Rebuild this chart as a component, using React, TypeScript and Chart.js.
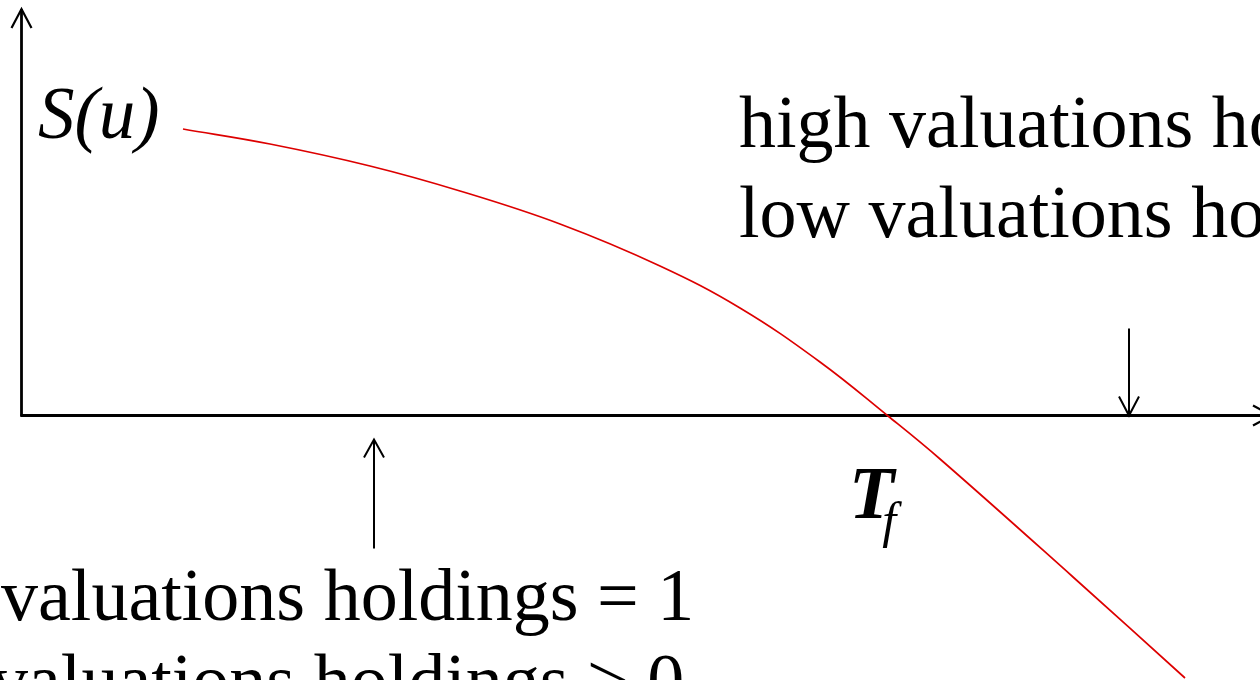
import React, { useEffect, useRef } from "react";
import { Chart, registerables } from "chart.js";

Chart.register(...registerables);

// Curve S(u): u on the horizontal axis, S on the vertical axis (axes cross at 0,0)
const uValues = [1.615, 2.485, 3.485, 4.385, 5.385, 6.385, 7.185, 7.985, 8.665, 9.185, 10.515, 11.635];
const sValues = [2.865, 2.715, 2.495, 2.245, 1.915, 1.495, 1.075, 0.535, -0.005, -0.435, -1.615, -2.625];

// Visible window of the (u, S) plane
const uRange = [-0.215, 12.385];
const sRange = [-2.645, 4.155];

// Marker arrows on the u axis
const upArrowU = 3.525;
const downArrowU = 11.075;
const crossingU = 8.665;

// Text
const curveLabel = "S(u)";
const rightLines = ["high valuations holdings", "low valuations holdings"];
const leftLines = ["valuations holdings = 1", "valuations holdings > 0"];
const tLabel = "T";
const tSub = "f";

const SERIF = '"Liberation Serif", "Times New Roman", serif';

function openHead(ctx: CanvasRenderingContext2D, tx: number, ty: number, dx: number, dy: number, len: number, half: number) {
  // dx,dy: unit vector pointing in the arrow's direction
  const bx = tx - dx * len;
  const by = ty - dy * len;
  const px = -dy;
  const py = dx;
  ctx.beginPath();
  ctx.moveTo(bx + px * half, by + py * half);
  ctx.lineTo(tx, ty);
  ctx.lineTo(bx - px * half, by - py * half);
  ctx.stroke();
}

const diagramPlugin = {
  id: "diagram",
  beforeDatasetsDraw(chart: any) {
    const { ctx, scales } = chart;
    const x = scales.x;
    const y = scales.y;
    const ox = x.getPixelForValue(0);
    const oy = y.getPixelForValue(0);
    ctx.save();
    ctx.strokeStyle = "#000";
    ctx.lineCap = "butt";
    ctx.lineJoin = "miter";

    // Axes
    ctx.lineWidth = 2.8;
    const yTop = y.getPixelForValue(sRange[1]) + 9;
    ctx.beginPath();
    ctx.moveTo(ox, oy + 1);
    ctx.lineTo(ox, yTop);
    ctx.stroke();
    const xEnd = x.getPixelForValue(uRange[1]) + 12;
    ctx.beginPath();
    ctx.moveTo(ox - 1, oy);
    ctx.lineTo(xEnd, oy);
    ctx.stroke();
    ctx.lineWidth = 2.2;
    openHead(ctx, ox, yTop, 0, -1, 19, 10);
    openHead(ctx, xEnd, oy, 1, 0, 19, 10);

    // Up arrow below the u axis
    ctx.lineWidth = 2;
    const ux = x.getPixelForValue(upArrowU);
    ctx.beginPath();
    ctx.moveTo(ux, oy + 133);
    ctx.lineTo(ux, oy + 24);
    ctx.stroke();
    openHead(ctx, ux, oy + 24, 0, -1, 18, 10);

    // Down arrow onto the u axis
    const dx = x.getPixelForValue(downArrowU);
    ctx.beginPath();
    ctx.moveTo(dx, oy - 87);
    ctx.lineTo(dx, oy);
    ctx.stroke();
    openHead(ctx, dx, oy, 0, 1, 19, 10);
    ctx.restore();
  },
  afterDatasetsDraw(chart: any) {
    const { ctx, scales } = chart;
    const x = scales.x;
    const y = scales.y;
    const oy = y.getPixelForValue(0);
    ctx.save();
    ctx.fillStyle = "#000";
    ctx.textBaseline = "alphabetic";
    ctx.textAlign = "left";

    // S(u) next to the start of the curve
    ctx.font = `italic 73px ${SERIF}`;
    ctx.fillText(curveLabel, 38, 138);

    // T_f under the crossing point
    const cx = x.getPixelForValue(crossingU);
    ctx.font = `italic bold 74px ${SERIF}`;
    ctx.fillText(tLabel, cx - 39, oy + 102);
    const tw = ctx.measureText(tLabel).width;
    ctx.font = `italic 50px ${SERIF}`;
    ctx.fillText(tSub, cx - 39 + tw - 12, oy + 121);

    // Right-hand note
    ctx.font = `74px ${SERIF}`;
    ctx.fillText(rightLines[0], 739, 147);
    ctx.fillText(rightLines[1], 739, 237);

    // Lower-left note
    ctx.fillText(leftLines[0], 1, 620);
    ctx.fillText(leftLines[1], -9, 705);
    ctx.restore();
  },
};

export default function App() {
  const ref = useRef<HTMLCanvasElement | null>(null);

  useEffect(() => {
    if (!ref.current) return;
    const chart = new Chart(ref.current, {
      type: "line",
      data: {
        datasets: [
          {
            data: uValues.map((u, i) => ({ x: u, y: sValues[i] })),
            borderColor: "#DD0000",
            borderWidth: 1.7,
            pointRadius: 0,
            fill: false,
            tension: 0.4,
          },
        ],
      },
      options: {
        animation: false,
        responsive: false,
        maintainAspectRatio: false,
        devicePixelRatio: 1,
        layout: { padding: 0 },
        plugins: { legend: { display: false }, tooltip: { enabled: false }, title: { display: false } },
        events: [],
        scales: {
          x: { type: "linear", display: false, min: uRange[0], max: uRange[1] },
          y: { type: "linear", display: false, min: sRange[0], max: sRange[1] },
        },
      },
      plugins: [diagramPlugin],
    });
    return () => chart.destroy();
  }, []);

  return (
    <div style={{ position: "fixed", left: 0, top: 0, width: 1260, height: 680, background: "#fff" }}>
      <canvas ref={ref} width={1260} height={680} style={{ display: "block", width: 1260, height: 680 }} />
    </div>
  );
}
